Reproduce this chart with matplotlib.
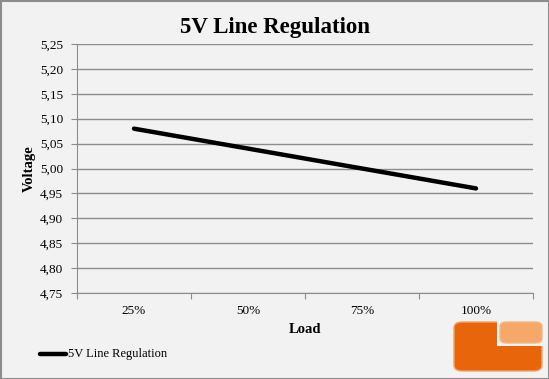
import matplotlib
matplotlib.use("Agg")
import matplotlib.pyplot as plt
from matplotlib.patches import Rectangle, FancyBboxPatch
from matplotlib.lines import Line2D
import numpy as np

categories = ["25%", "50%", "75%", "100%"]
voltage = [5.08, 5.04, 5.00, 4.96]
y_ticks = [4.75, 4.80, 4.85, 4.90, 4.95, 5.00, 5.05, 5.10, 5.15, 5.20, 5.25]
series_name = "5V Line Regulation"

plt.rcParams['font.family'] = ['Liberation Serif', 'DejaVu Serif']

bg = "#f2f2f2"
fig = plt.figure(figsize=(5.49, 3.79), dpi=100, facecolor=bg)
ax = fig.add_axes([77/549, 1-293/379, (533-77)/549, (293-44)/379])
ax.set_facecolor(bg)

x = np.arange(len(categories))
ax.plot(x, voltage, color="black", lw=3.2, solid_capstyle="round")

ax.set_xlim(-0.5, len(categories)-0.5)
ax.set_ylim(y_ticks[0], y_ticks[-1])
ax.set_yticks(y_ticks)
ax.set_yticklabels([f"{v:.2f}".replace(".", ",") for v in y_ticks], fontsize=9.5)
ax.yaxis.grid(True, color="#8c8c8c", lw=1)
ax.set_axisbelow(True)

ax.set_xticks(np.arange(-0.5, len(categories), 1.0))
ax.set_xticklabels([])
ax.set_xticks(x, minor=True)
ax.set_xticklabels(categories, minor=True, fontsize=9.5)
ax.tick_params(axis="x", which="minor", length=0, pad=9)
ax.tick_params(axis="x", which="major", length=4, color="#8c8c8c", direction="out")
ax.tick_params(axis="y", length=4, color="#8c8c8c", direction="out", pad=6)

for s in ["top", "right"]:
    ax.spines[s].set_visible(False)
for s in ["left", "bottom"]:
    ax.spines[s].set_color("#8c8c8c")

ax.set_xlabel("Load", fontsize=10.5, fontweight="bold", labelpad=4)
ax.set_ylabel("Voltage", fontsize=10.5, fontweight="bold", labelpad=3)

fig.text(0.5, 1-27/379, "5V Line Regulation", ha="center", va="center",
         fontsize=16.5, fontweight="bold")

# legend
fig.add_artist(Line2D([40/549, 66/549], [1-354/379, 1-354/379], color="black", lw=3.2,
                      solid_capstyle="round", transform=fig.transFigure))
fig.text(68/549, 1-354/379, series_name, ha="left", va="center", fontsize=9)

# logo (approximation)
W, H = 549, 379
fig.add_artist(FancyBboxPatch((454/W, 1-371/H), 88/W, 49/H,
                              boxstyle="round,pad=0,rounding_size=0.015",
                              transform=fig.transFigure, facecolor="#e8650c",
                              edgecolor="#f3a36a", lw=1))
fig.add_artist(Rectangle((497/W, 1-346/H), 47/W, 28/H,
                         transform=fig.transFigure, facecolor=bg, edgecolor="none"))
fig.add_artist(FancyBboxPatch((500/W, 1-343/H), 42/W, 21/H,
                              boxstyle="round,pad=0,rounding_size=0.012",
                              transform=fig.transFigure, facecolor="#f6a868",
                              edgecolor="#f3b888", lw=1))

# figure border
fig.add_artist(Rectangle((0.5/549, 0.5/379), 1-1/549, 1-1/379, transform=fig.transFigure,
                         facecolor="none", edgecolor="#8c8c8c", lw=1.5))

fig.savefig("out.png", dpi=100, facecolor=bg)
